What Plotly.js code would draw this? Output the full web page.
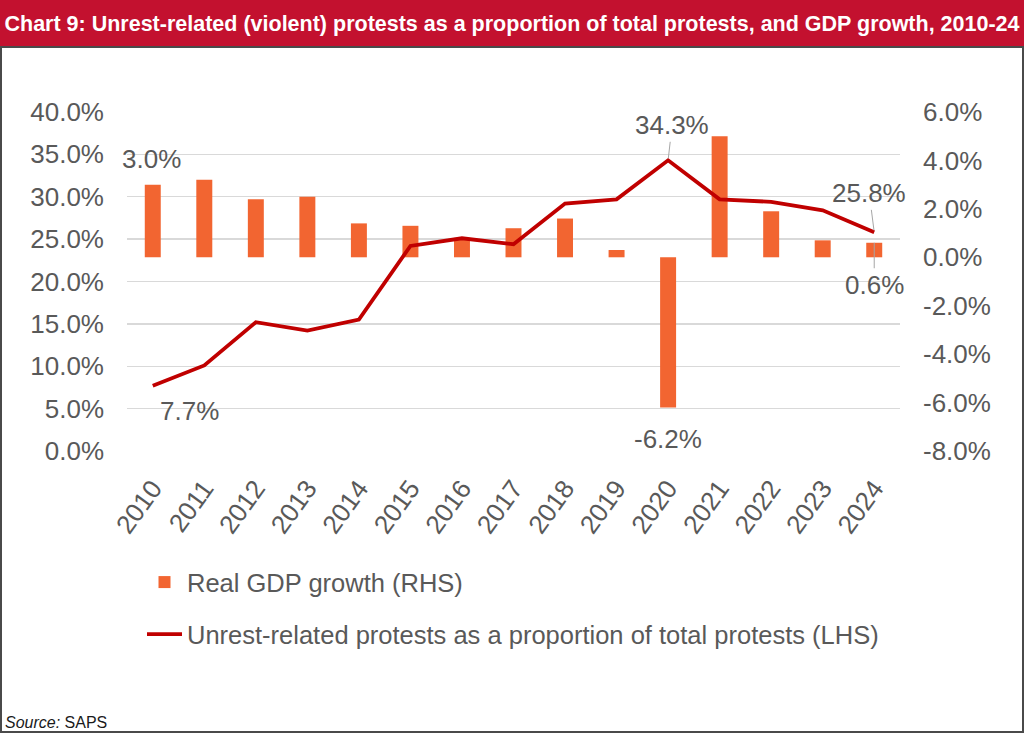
<!DOCTYPE html>
<html>
<head>
<meta charset="utf-8">
<script src="https://cdn.plot.ly/plotly-3.0.1.min.js"></script>
<style>
  html, body { margin: 0; padding: 0; background: #fff; }
  #chart { width: 1024px; height: 733px; }
</style>
</head>
<body>
<div id="chart"></div>
<script>
var years = ["2010", "2011", "2012", "2013", "2014", "2015", "2016", "2017",
             "2018", "2019", "2020", "2021", "2022", "2023", "2024"];

// real GDP growth, % (right axis)
var gdp_growth = [3.0, 3.2, 2.4, 2.5, 1.4, 1.3, 0.8, 1.2, 1.6, 0.3, -6.2, 5.0, 1.9, 0.7, 0.6];

// unrest-related protests as share of all protests, % (left axis)
var unrest_share = [7.7, 10.1, 15.2, 14.2, 15.5, 24.2, 25.1, 24.4, 29.2, 29.7, 34.3, 29.7, 29.4, 28.4, 25.8];

// right axis ticks (hyphen minus like the original, not the unicode minus)
var rhs_tickvals = [-8, -6, -4, -2, 0, 2, 4, 6];
var rhs_ticktext = ["-8.0%", "-6.0%", "-4.0%", "-2.0%", "0.0%", "2.0%", "4.0%", "6.0%"];

var grey = '#595959';
var font_main = 'Liberation Sans, Arial, Helvetica, sans-serif';

// plot area in pixels, used to place the banner/border shapes in paper units
var W = 1024, H = 733;
var m = {l: 127, r: 124, t: 112, b: 282};
var pw = W - m.l - m.r, ph = H - m.t - m.b;
function px(x) { return (x - m.l) / pw; }
function py(y) { return (H - m.b - y) / ph; }

var gdp = {
    x: years,
    y: gdp_growth,
    name: 'Real GDP growth (RHS)',
    type: 'bar',
    yaxis: 'y',
    width: 0.31,
    marker: {color: '#F26531'},
    legendgroup: 'a'
};

var unrest = {
    x: years,
    y: unrest_share,
    name: 'Unrest-related protests as a proportion of total protests (LHS)',
    type: 'scatter',
    mode: 'lines',
    yaxis: 'y2',
    line: {color: '#C00000', width: 3.8},
    legendgroup: 'b'
};

var lab = {size: 26, color: grey, family: font_main};
// annotations on a category axis go by index
var i2010 = years.indexOf('2010'), i2020 = years.indexOf('2020'), i2024 = years.indexOf('2024');

var layout = {
    width: W,
    height: H,
    margin: m,
    paper_bgcolor: '#fff',
    plot_bgcolor: 'rgba(0,0,0,0)',
    showlegend: true,
    title: {
        text: '<b>Chart 9: Unrest-related (violent) protests as a proportion of total protests, and GDP growth, 2010-24</b>',
        font: {size: 21.5, color: '#fff', family: font_main},
        xref: 'container', x: 0.5, xanchor: 'center',
        yref: 'container', y: 1 - 23 / H, yanchor: 'middle'
    },
    xaxis: {
        type: 'category',
        range: [-0.5, years.length - 0.5],
        tickangle: -54,
        tickfont: {size: 26, color: grey, family: font_main},
        ticklabelstandoff: 16,
        showgrid: false,
        showline: false,
        ticks: '',
        automargin: false
    },
    yaxis: {
        side: 'right',
        range: [-8, 6],
        tickvals: rhs_tickvals,
        ticktext: rhs_ticktext,
        showgrid: false,
        zeroline: false,
        showline: false,
        ticks: '',
        ticklabelstandoff: 22,
        tickfont: {size: 26, color: grey, family: font_main},
        automargin: false
    },
    yaxis2: {
        side: 'left',
        overlaying: 'y',
        range: [0, 40],
        dtick: 5,
        tickformat: '.1f',
        ticksuffix: '%',
        showgrid: true,
        gridcolor: '#D9D9D9',
        gridwidth: 1.3,
        zeroline: false,
        showline: false,
        ticks: '',
        ticklabelstandoff: 22,
        tickfont: {size: 26, color: grey, family: font_main},
        automargin: false
    },
    legend: {
        x: px(142), xanchor: 'left',
        y: py(559), yanchor: 'top',
        traceorder: 'grouped',
        tracegroupgap: 16,
        itemwidth: 35,
        font: {size: 25.5, color: grey, family: font_main},
        bgcolor: 'rgba(0,0,0,0)'
    },
    shapes: [
        {type: 'rect', xref: 'paper', yref: 'paper', layer: 'below',
         x0: px(-2), x1: px(W + 2), y0: py(47), y1: py(-2),
         fillcolor: '#C3112F', line: {width: 0}},
        {type: 'rect', xref: 'paper', yref: 'paper', layer: 'below',
         x0: px(1), x1: px(W - 1), y0: py(H - 1), y1: py(47),
         fillcolor: 'rgba(0,0,0,0)', line: {color: '#4a4a4a', width: 2}}
    ],
    annotations: [
        {x: i2010, y: gdp_growth[i2010], xref: 'x', yref: 'y', text: gdp_growth[i2010].toFixed(1) + '%',
         showarrow: false, yshift: 26, xshift: -1, font: lab},
        {x: i2010, y: unrest_share[i2010], xref: 'x', yref: 'y2', text: unrest_share[i2010].toFixed(1) + '%',
         showarrow: false, xshift: 37, yshift: -25, font: lab},
        {x: i2020, y: unrest_share[i2020], xref: 'x', yref: 'y2', text: unrest_share[i2020].toFixed(1) + '%',
         showarrow: true, arrowhead: 0, arrowwidth: 1, arrowcolor: '#A6A6A6', ax: 4, ay: -35,
         standoff: 2, font: lab},
        {x: i2020, y: gdp_growth[i2020], xref: 'x', yref: 'y', text: gdp_growth[i2020].toFixed(1) + '%',
         showarrow: false, yshift: -32, font: lab},
        {x: i2024, y: unrest_share[i2024], xref: 'x', yref: 'y2', text: unrest_share[i2024].toFixed(1) + '%',
         showarrow: true, arrowhead: 0, arrowwidth: 1, arrowcolor: '#A6A6A6', ax: -5, ay: -39,
         standoff: 2, font: lab},
        {x: i2024, y: gdp_growth[i2024], xref: 'x', yref: 'y', text: gdp_growth[i2024].toFixed(1) + '%',
         showarrow: true, arrowhead: 0, arrowwidth: 1, arrowcolor: '#A6A6A6', ax: 0, ay: 42,
         font: lab},
        {xref: 'paper', yref: 'paper', x: px(3), y: py(722), xanchor: 'left', yanchor: 'middle',
         text: '<i>Source:</i> SAPS', showarrow: false,
         font: {size: 16, color: '#1a1a1a', family: font_main}}
    ]
};

Plotly.newPlot('chart', [gdp, unrest], layout, {displayModeBar: false, staticPlot: true});
</script>
</body>
</html>
